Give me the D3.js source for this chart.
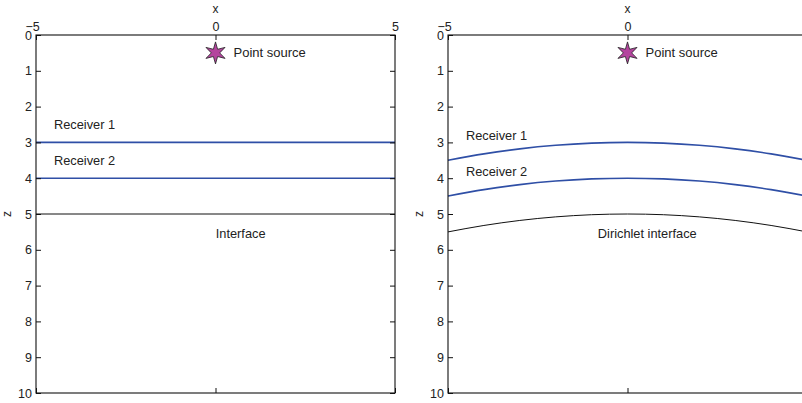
<!DOCTYPE html>
<html><head><meta charset="utf-8">
<script src="https://cdn.jsdelivr.net/npm/d3@7/dist/d3.min.js"></script>
<style>body{margin:0;background:#fff}svg{display:block}text{font-family:"Liberation Sans",Arial,Helvetica,sans-serif;fill:#222}</style>
</head><body><svg id="c" width="802" height="403"></svg>
<script>
// data
const xTicks = [-5, 0, 5];
const zTicks = [0,1,2,3,4,5,6,7,8,9,10];
const source = {x: 0, z: 0.5, label: "Point source"};
// left panel: flat layers
const flatX = [-5, 5];
const flatReceiver1 = [3, 3];
const flatReceiver2 = [4, 4];
const flatInterface = [5, 5];
// right panel: curved layers
const curveX = [-5, -4, -3, -2, -1, 0, 1, 2, 3, 4, 5];
const curveReceiver1 = [3.5, 3.32, 3.18, 3.08, 3.02, 3, 3.02, 3.08, 3.18, 3.32, 3.5];
const curveReceiver2 = [4.5, 4.32, 4.18, 4.08, 4.02, 4, 4.02, 4.08, 4.18, 4.32, 4.5];
const curveInterface = [5.5, 5.32, 5.18, 5.08, 5.02, 5, 5.02, 5.08, 5.18, 5.32, 5.5];
const leftLabels = [
  {text:"Receiver 1", x:-4.5, z:2.5, anchor:"start"},
  {text:"Receiver 2", x:-4.5, z:3.5, anchor:"start"},
  {text:"Interface", x:0.7, z:5.55, anchor:"middle"}
];
const rightLabels = [
  {text:"Receiver 1", x:-4.5, z:2.8, anchor:"start"},
  {text:"Receiver 2", x:-4.5, z:3.8, anchor:"start"},
  {text:"Dirichlet interface", x:0.55, z:5.55, anchor:"middle"}
];

const svg = d3.select("#c");

function panel(x0, x1, xs, layers, labels){
  const x = d3.scaleLinear().domain([-5,5]).range([x0,x1]);
  const y = d3.scaleLinear().domain([0,10]).range([35,393]);
  const g = svg.append("g").style("color","#222");
  const line = d3.line().x(d=>x(d[0])).y(d=>y(d[1])).curve(d3.curveMonotoneX);
  layers.forEach(L=>{
    g.append("path").datum(xs.map((v,i)=>[v,L.vals[i]]))
      .attr("d", line).attr("fill","none").attr("stroke",L.color).attr("stroke-width",L.w);
  });
  // box
  g.append("rect").attr("x",x0).attr("y",y(0)).attr("width",x1-x0).attr("height",y(10)-y(0))
    .attr("fill","none").attr("stroke","#111").attr("stroke-width",1.1);
  // y axes
  const ya = d3.axisLeft(y).tickValues(zTicks).tickSize(-5).tickPadding(4).tickFormat(d3.format("d"));
  g.append("g").attr("transform",`translate(${x0},0)`).call(ya);
  const yr = d3.axisRight(y).tickValues(zTicks).tickSize(-5).tickFormat("");
  g.append("g").attr("transform",`translate(${x1},0)`).call(yr);
  const xa = d3.axisTop(x).tickValues(xTicks).tickSize(-5).tickPadding(4).tickFormat(d=>d<0?"\u2212"+Math.abs(d):d);
  const xg = g.append("g").attr("transform",`translate(0,${y(0)})`).call(xa);
  const xb = d3.axisBottom(x).tickValues(xTicks).tickSize(-5).tickFormat("");
  g.append("g").attr("transform",`translate(0,${y(10)})`).call(xb);
  g.selectAll(".domain").remove();
  g.selectAll(".tick line").attr("stroke","#111");
  g.selectAll(".tick text").attr("font-size",12.5).attr("fill","#222")
    .style("font-family",'"Liberation Sans",Arial,sans-serif');
  xg.selectAll(".tick text").filter(d=>d<0).attr("dx",-4);
  // axis titles
  g.append("text").attr("x",x(0)).attr("y",13).attr("text-anchor","middle").attr("font-size",12).text("x");
  g.append("text").attr("transform",`translate(${x0-25},${y(5)}) rotate(-90)`).attr("text-anchor","middle")
    .attr("font-size",12).text("z");
  // source star (6 points)
  const pts = [];
  for(let i=0;i<12;i++){const a=-Math.PI/2+i*Math.PI/6; const r=i%2?4.2:11; pts.push([Math.cos(a)*r, Math.sin(a)*r]);}
  g.append("path").attr("d","M"+pts.map(p=>p.join(",")).join("L")+"Z")
    .attr("transform",`translate(${x(source.x)},${y(source.z)})`)
    .attr("fill","#b4449e").attr("stroke","#222").attr("stroke-width",0.8);
  g.append("text").attr("x",x(source.x)+18).attr("y",y(source.z)).attr("dy","0.35em")
    .attr("font-size",13).text(source.label);
  labels.forEach(l=>{
    g.append("text").attr("x",x(l.x)).attr("y",y(l.z)).attr("dy","0.35em")
      .attr("text-anchor",l.anchor).attr("font-size",12.8).text(l.text);
  });
}

panel(36, 395, flatX, [
  {vals:flatReceiver1, color:"#2f4fa6", w:1.6},
  {vals:flatReceiver2, color:"#2f4fa6", w:1.6},
  {vals:flatInterface, color:"#111", w:1}
], leftLabels);
panel(448, 807, curveX, [
  {vals:curveReceiver1, color:"#2f4fa6", w:1.6},
  {vals:curveReceiver2, color:"#2f4fa6", w:1.6},
  {vals:curveInterface, color:"#111", w:1}
], rightLabels);
</script></body></html>
